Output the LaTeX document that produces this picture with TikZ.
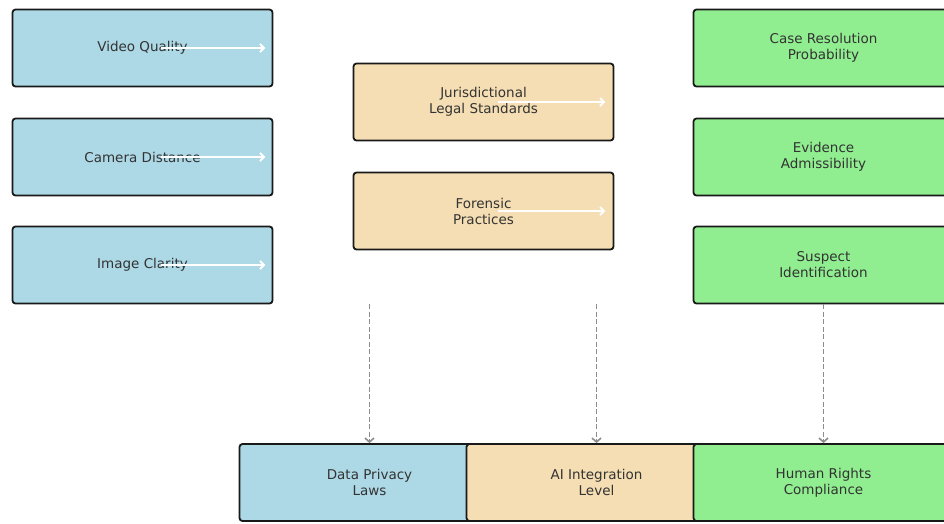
\documentclass[tikz,border=0pt]{standalone}
\usepackage{fontspec}
\setmainfont{DejaVu Sans}
\usepackage{xcolor}
\usetikzlibrary{arrows.meta,positioning,calc}
\definecolor{cblue}{RGB}{173,216,230}
\definecolor{cwheat}{RGB}{245,222,179}
\definecolor{cgreen}{RGB}{144,238,144}
\definecolor{ctext}{RGB}{51,51,51}
\tikzset{
  box/.style={draw=black!90,rounded corners=3pt,align=center,line width=1.8pt,
              minimum width=260pt,minimum height=77pt,inner sep=0pt,
              text=ctext,font=\fontsize{13.5}{16}\selectfont},
  inbox/.style={box,fill=cblue},                 % 输入因素：浅蓝
  midbox/.style={box,fill=cwheat},               % 中介因素：麦色
  outbox/.style={box,fill=cgreen},               % 结果：浅绿
  flow/.style={-{Straight Barb[length=4pt,width=8pt]},white,line width=2pt},
  dep/.style={-{Straight Barb[length=4pt,width=9pt]},black!45,line width=1.6pt,
              dash pattern=on 5pt off 2.5pt}
}

\begin{document}
\begin{tikzpicture}[x=1pt,y=-1pt]
  \useasboundingbox (0,0) rectangle (944,523);
  % 左列
  \node[inbox] (vq) at (142.5,48)  {Video Quality};
  \node[inbox] (cd) at (142.5,157) {Camera Distance};
  \node[inbox] (ic) at (142.5,265) {Image Clarity};
  % 中列
  \node[midbox] (js) at (483.5,102) {Jurisdictional\\Legal Standards};
  \node[midbox] (fp) at (483.5,211) {Forensic\\Practices};
  % 右列
  \node[outbox] (cr) at (823.5,48)  {Case Resolution\\Probability};
  \node[outbox] (ea) at (823.5,157) {Evidence\\Admissibility};
  \node[outbox] (si) at (823.5,265) {Suspect\\Identification};
  % 底部
  \node[inbox]  (dp) at (369.5,482.5) {Data Privacy\\Laws};
  \node[midbox] (ai) at (596.5,482.5) {AI Integration\\Level};
  \node[outbox] (hr) at (823.5,482.5) {Human Rights\\Compliance};

  \foreach \n in {vq,cd,ic}
    \draw[flow] ([xshift=18pt]\n.center) -- ([xshift=-8pt]\n.east);
  \foreach \n in {js,fp}
    \draw[flow] ([xshift=14pt]\n.center) -- ([xshift=-9pt]\n.east);

  \draw[dep] (dp.north |- ic.south) -- (dp.north);
  \draw[dep] (ai.north |- ic.south) -- (ai.north);
  \draw[dep] (si.south) -- (hr.north);
\end{tikzpicture}
\end{document}
